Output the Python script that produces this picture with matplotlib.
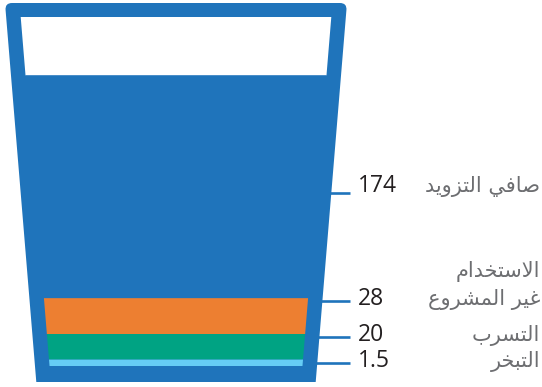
import matplotlib
matplotlib.use("Agg")
import matplotlib.pyplot as plt
import numpy as np
from matplotlib.patches import PathPatch, Polygon
from matplotlib.path import Path

# data, top layer first
values = [174, 28, 20, 1.5]
value_text = ["174", "28", "20", "1.5"]
labels = [["صافي التزويد"], ["الاستخدام", "غير المشروع"], ["التسرب"], ["التبخر"]]
colors = ["#1f74bb", "#ed7f31", "#00a383", "#66cdf5"]

BLUE = "#1f74bb"

# matplotlib does no arabic shaping, so pick the presentation forms by hand
FORMS = {
    "ا": ("\ufe8d", "\ufe8e", None, None),
    "ب": ("\ufe8f", "\ufe90", "\ufe91", "\ufe92"),
    "ت": ("\ufe95", "\ufe96", "\ufe97", "\ufe98"),
    "خ": ("\ufea5", "\ufea6", "\ufea7", "\ufea8"),
    "د": ("\ufea9", "\ufeaa", None, None),
    "ر": ("\ufead", "\ufeae", None, None),
    "ز": ("\ufeaf", "\ufeb0", None, None),
    "س": ("\ufeb1", "\ufeb2", "\ufeb3", "\ufeb4"),
    "ش": ("\ufeb5", "\ufeb6", "\ufeb7", "\ufeb8"),
    "ص": ("\ufeb9", "\ufeba", "\ufebb", "\ufebc"),
    "ع": ("\ufec9", "\ufeca", "\ufecb", "\ufecc"),
    "غ": ("\ufecd", "\ufece", "\ufecf", "\ufed0"),
    "ف": ("\ufed1", "\ufed2", "\ufed3", "\ufed4"),
    "ل": ("\ufedd", "\ufede", "\ufedf", "\ufee0"),
    "م": ("\ufee1", "\ufee2", "\ufee3", "\ufee4"),
    "و": ("\ufeed", "\ufeee", None, None),
    "ي": ("\ufef1", "\ufef2", "\ufef3", "\ufef4"),
    "لا": ("\ufefb", "\ufefc", None, None),
}


def shape(text):
    toks = []
    i = 0
    while i < len(text):
        if text[i:i + 2] == "لا":
            toks.append("لا")
            i += 2
        else:
            toks.append(text[i])
            i += 1
    out = []
    for k, t in enumerate(toks):
        if t not in FORMS:
            out.append(t)
            continue
        prev = toks[k - 1] if k > 0 else None
        nxt = toks[k + 1] if k + 1 < len(toks) else None
        iso, fin, ini, med = FORMS[t]
        jp = prev in FORMS and FORMS[prev][2] is not None
        jn = nxt in FORMS and ini is not None
        if jp and jn:
            out.append(med)
        elif jp:
            out.append(fin)
        elif jn:
            out.append(ini)
        else:
            out.append(iso)
    return "".join(reversed(out))


fig = plt.figure(figsize=(5.42, 3.87), dpi=100)
ax = fig.add_axes([0, 0, 1, 1])
ax.set_xlim(0, 542)
ax.set_ylim(387, 0)
ax.axis("off")

# glass geometry (pixels)
cx = 176
slope = 0.0826
def left_out(y):
    return 5 + slope * (y - 3)
def left_in(y):
    return 20.7 + slope * (y - 17)

top_out, bot_out = 3, 382
top_in, bot_in = 17, 366
r = 7
verts = [
    (left_out(top_out + r), top_out + r),
    (left_out(top_out), top_out), (left_out(top_out) + r, top_out),
    (2 * cx - left_out(top_out) - r, top_out),
    (2 * cx - left_out(top_out), top_out), (2 * cx - left_out(top_out + r), top_out + r),
    (2 * cx - left_out(bot_out), bot_out),
    (left_out(bot_out), bot_out),
    (left_out(top_out + r), top_out + r),
]
codes = [Path.MOVETO, Path.CURVE3, Path.CURVE3, Path.LINETO, Path.CURVE3, Path.CURVE3,
         Path.LINETO, Path.LINETO, Path.CLOSEPOLY]
ax.add_patch(PathPatch(Path(verts, codes), facecolor=BLUE, edgecolor="none"))


def trap(y0, y1, color):
    pts = [(left_in(y0), y0), (2 * cx - left_in(y0), y0),
           (2 * cx - left_in(y1), y1), (left_in(y1), y1)]
    ax.add_patch(Polygon(pts, closed=True, facecolor=color, edgecolor="none"))


# layers stacked from the glass bottom; tiny values get a minimum visible height
shown = np.maximum(np.array(values, dtype=float), 5)
px_per_unit = 1.28
heights = shown * px_per_unit
bottoms = bot_in - np.cumsum(heights[::-1])[::-1] + heights
tops = bottoms - heights

# empty part of the glass
trap(top_in, tops[0], "white")
for y0, y1, c in zip(tops, bottoms, colors):
    trap(y0, y1, c)

num_font = ["Open Sans", "DejaVu Sans"]
for k in range(len(values)):
    if k == 0:
        ly = (tops[k] + bottoms[k]) / 2 + 6
        base = ly - 1
    else:
        ly = min(tops[k] + 3, bottoms[k])
        base = ly + 4
    x0 = 2 * cx - left_out(ly)
    ax.plot([x0 - 1, 350], [ly, ly], color=BLUE, lw=1.9, solid_capstyle="butt")
    ax.text(358, base, value_text[k], fontsize=16.5, color="#231f20",
            family=num_font, ha="left", va="baseline")
    lines = labels[k]
    for j, s in enumerate(lines):
        yy = base - (len(lines) - 1 - j) * 28
        ax.text(540, yy, shape(s), fontsize=15, color="#6d6e71",
                family="DejaVu Sans", ha="right", va="baseline")

fig.savefig("out.png", dpi=100)
